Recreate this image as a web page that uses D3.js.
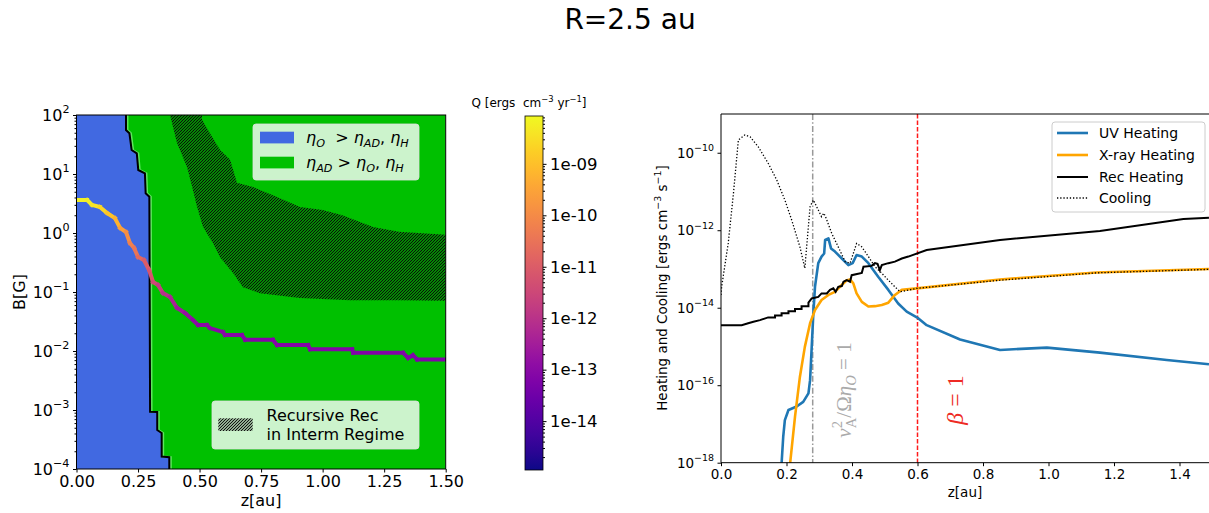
<!DOCTYPE html>
<html>
<head>
<meta charset="utf-8">
<script src="https://cdn.jsdelivr.net/npm/d3@7"></script>
<style>
  body { margin: 0; background: #fff; }
  svg { display: block; font-family: "DejaVu Sans", sans-serif; }
  text { white-space: pre; }
</style>
</head>
<body>
<svg id="fig" width="1209" height="513"></svg>
<script>
// ---------- Left panel: dominant resistivity regimes in (z, B) ----------
// Boundary of the Ohmic-dominated region (z in au, log10 B in G)
const ohmZ    = [0.201, 0.201, 0.215, 0.224, 0.245, 0.251, 0.278, 0.281, 0.296, 0.299, 0.328, 0.328, 0.346, 0.346, 0.377, 0.377];
const ohmLogB = [2.0,   1.746, 1.69,  1.407, 1.351, 1.068, 1.012, 0.673, 0.615, -3.03, -3.034, -3.34, -3.39, -3.79, -3.80, -4.0];

// Region of recursive recombination in the intermediate regime
const recTopZ    = [0.38, 0.51, 0.51, 0.542, 0.583, 0.624, 0.652, 0.717, 0.815, 0.908, 1.0, 1.08, 1.205, 1.31, 1.5];
const recTopLogB = [2.0,  2.0,  1.92, 1.69,  1.41,  1.24,  0.85,  0.78,  0.61,  0.44,  0.39, 0.30, 0.10, 0.02, -0.03];
const recBotZ    = [1.5,   1.31,  1.11,  0.908, 0.745, 0.676, 0.636, 0.583, 0.554, 0.514, 0.49, 0.47, 0.449, 0.408, 0.38];
const recBotLogB = [-1.15, -1.14, -1.14, -1.10, -1.02, -0.92, -0.68, -0.41, -0.17, 0.10, 0.44, 0.78, 1.12, 1.53, 2.0];

// Field strength along the column and the local heating rate Q (log10)
const fieldZ = [0, 0.043, 0.063, 0.095, 0.124, 0.156, 0.177, 0.201, 0.217, 0.234, 0.25, 0.274, 0.295, 0.311, 0.331, 0.351, 0.38, 0.408, 0.441, 0.473, 0.494, 0.53, 0.542, 0.595, 0.603, 0.672, 0.685, 0.798, 0.815, 0.941, 0.949, 1.12, 1.124, 1.327, 1.347, 1.367, 1.384, 1.5];
const fieldB = [3.62, 3.62, 2.99, 2.76, 2.18, 1.79, 1.22, 1.04, 0.678, 0.557, 0.392, 0.348, 0.236, 0.148, 0.132, 0.096, 0.082, 0.054, 0.044, 0.0335, 0.0275, 0.0275, 0.0245, 0.0209, 0.0186, 0.0186, 0.0155, 0.0155, 0.0126, 0.0126, 0.0107, 0.0107, 0.0093, 0.0093, 0.0076, 0.0085, 0.0072, 0.0072];
const fieldLogQ = [-8.2, -8.2, -8.3, -8.5, -8.8, -9.1, -9.4, -9.8, -10.1, -10.3, -10.6, -10.9, -11.1, -11.3, -11.6, -11.9, -12.2, -12.5, -12.7, -12.9, -13.0, -13.0, -13.0, -13.05, -13.05, -13.1, -13.1, -13.1, -13.1, -13.1, -13.1, -13.15, -13.15, -13.15, -13.2, -13.2, -13.2, -13.2];

const leftXTicks = [0, 0.25, 0.5, 0.75, 1.0, 1.25, 1.5];
const leftYExps = [-4, -3, -2, -1, 0, 1, 2];
const cbarExps = [-14, -13, -12, -11, -10, -9];
const cbarLogRange = [-14.95, -8.07];

// ---------- Right panel: heating and cooling rates vs z ----------
const uvZ    = [0.16, 0.185, 0.190, 0.195, 0.206, 0.231, 0.251, 0.267, 0.272, 0.277, 0.282, 0.287, 0.297, 0.307, 0.315, 0.318, 0.328, 0.336, 0.348, 0.369, 0.389, 0.402, 0.414, 0.430, 0.450, 0.480, 0.511, 0.541, 0.567, 0.602, 0.628, 0.730, 0.852, 0.995, 1.157, 1.361, 1.49];
const uvLogQ = [-19, -18.02, -17.33, -16.90, -16.64, -16.55, -16.43, -16.21, -15.87, -15.01, -14.14, -13.46, -12.85, -12.68, -12.60, -12.25, -12.21, -12.47, -12.55, -12.73, -12.90, -12.85, -12.64, -12.68, -12.85, -13.20, -13.54, -13.89, -14.10, -14.27, -14.45, -14.82, -15.09, -15.03, -15.16, -15.35, -15.46];

const xrayZ    = [0.19, 0.211, 0.226, 0.241, 0.256, 0.272, 0.287, 0.307, 0.328, 0.348, 0.363, 0.384, 0.394, 0.404, 0.414, 0.430, 0.450, 0.470, 0.491, 0.511, 0.531, 0.552, 0.598, 0.852, 1.147, 1.49];
const xrayLogQ = [-19.5, -18.02, -16.81, -15.78, -15.01, -14.40, -14.06, -13.80, -13.67, -13.59, -13.46, -13.29, -13.27, -13.37, -13.63, -13.85, -13.97, -13.96, -13.93, -13.87, -13.67, -13.54, -13.50, -13.27, -13.09, -13.00];

const recZ    = [0, 0.063, 0.083, 0.099, 0.119, 0.144, 0.165, 0.165, 0.185, 0.185, 0.206, 0.206, 0.226, 0.226, 0.246, 0.246, 0.267, 0.267, 0.277, 0.297, 0.307, 0.323, 0.333, 0.343, 0.350, 0.358, 0.369, 0.374, 0.384, 0.394, 0.399, 0.430, 0.435, 0.460, 0.470, 0.478, 0.485, 0.491, 0.511, 0.531, 0.552, 0.572, 0.628, 0.852, 1.157, 1.412, 1.49];
const recLogQ = [-14.45, -14.45, -14.40, -14.36, -14.32, -14.25, -14.25, -14.20, -14.20, -14.14, -14.14, -14.09, -14.09, -14.03, -14.03, -13.96, -13.96, -13.87, -13.76, -13.72, -13.63, -13.63, -13.54, -13.50, -13.59, -13.46, -13.44, -13.33, -13.29, -13.33, -13.16, -13.10, -12.94, -12.92, -12.85, -12.87, -13.03, -12.90, -12.85, -12.81, -12.73, -12.68, -12.51, -12.25, -12.02, -11.71, -11.68];

const coolZ    = [0, 0.002, 0.022, 0.038, 0.053, 0.073, 0.089, 0.114, 0.144, 0.170, 0.195, 0.216, 0.241, 0.256, 0.272, 0.282, 0.297, 0.307, 0.314, 0.321, 0.338, 0.358, 0.379, 0.394, 0.404, 0.414, 0.430, 0.450, 0.470, 0.491, 0.511, 0.531, 0.547, 0.598, 0.852, 1.147, 1.49];
const coolLogQ = [-13.67, -13.46, -12.34, -11.05, -9.67, -9.54, -9.59, -9.85, -10.27, -10.70, -11.22, -11.74, -12.43, -12.98, -11.39, -11.22, -11.48, -11.65, -11.56, -11.69, -12.08, -12.43, -12.81, -12.85, -12.60, -12.34, -12.43, -12.68, -12.94, -13.11, -13.29, -13.46, -13.59, -13.50, -13.29, -13.10, -13.01];

const rightXTicks = [0, 0.2, 0.4, 0.6, 0.8, 1.0, 1.2, 1.4];
const rightYExps = [-18, -16, -14, -12, -10];
const alfvenZ = 0.28;   // v_A^2 / (Ω η_O) = 1
const betaZ = 0.6;      // plasma beta = 1

const seriesNames = ["UV Heating", "X-ray Heating", "Rec Heating", "Cooling"];
const seriesColors = ["#1f77b4", "orange", "black", "black"];

// ---------- helpers ----------
const svg = d3.select("#fig");
const minus = n => (n < 0 ? "\u2212" + (-n) : String(n));

function powLabel(textSel, exp, size) {
  textSel.text(null);
  textSel.append("tspan").text("10");
  textSel.append("tspan").attr("dy", -size * 0.45).attr("font-size", size * 0.7).text(minus(exp));
}

// segments: {t, it, sub, sup, dx}
function mathText(textSel, segs, size) {
  let shift = 0;
  segs.forEach(s => {
    const target = s.sub ? size * 0.22 : s.sup ? -size * 0.42 : 0;
    const ts = textSel.append("tspan").attr("dy", target - shift).text(s.t);
    shift = target;
    if (s.sub || s.sup) ts.attr("font-size", size * 0.7);
    if (s.it) ts.attr("font-style", "italic");
    if (s.dx) ts.attr("dx", s.dx);
  });
}

// Suptitle
svg.append("text").attr("x", 630).attr("y", 29).attr("text-anchor", "middle")
  .attr("font-size", 28).text("R=2.5 au");

// ======================= LEFT PANEL =======================
const xL = d3.scaleLinear().domain([0, 1.5]).range([76.5, 445.7]);
const yL = d3.scaleLog().domain([1e-4, 1e2]).range([469, 115]);

const defs = svg.append("defs");
defs.append("clipPath").attr("id", "clipL").append("rect")
  .attr("x", xL(0)).attr("y", yL(1e2)).attr("width", xL(1.5) - xL(0)).attr("height", yL(1e-4) - yL(1e2));

const hatch = defs.append("pattern").attr("id", "hatch").attr("patternUnits", "userSpaceOnUse")
  .attr("width", 3).attr("height", 3);
hatch.append("path").attr("d", "M-1,1 L1,-1 M0,3 L3,0 M2,4 L4,2")
  .attr("stroke", "#0a0a0a").attr("stroke-width", 1.2);

const gL = svg.append("g").attr("clip-path", "url(#clipL)");
gL.append("rect").attr("x", xL(0)).attr("y", yL(1e2)).attr("width", xL(1.5) - xL(0))
  .attr("height", yL(1e-4) - yL(1e2)).attr("fill", "#00c000");

const ohmPts = ohmZ.map((z, i) => [z, Math.pow(10, ohmLogB[i])]);
const ohmPoly = [[0, 1e2], ...ohmPts, [0, 1e-4]];
const lineL = d3.line().x(d => xL(d[0])).y(d => yL(d[1]));
gL.append("path").attr("d", lineL(ohmPoly) + "Z").attr("fill", "#4169e1");

const recPoly = recTopZ.map((z, i) => [z, Math.pow(10, recTopLogB[i])])
  .concat(recBotZ.map((z, i) => [z, Math.pow(10, recBotLogB[i])]));
gL.append("path").attr("d", lineL(recPoly) + "Z").attr("fill", "url(#hatch)");

// light contour edge and the black boundary line
gL.append("path").attr("d", lineL(ohmPts)).attr("fill", "none")
  .attr("stroke", "#5ee65e").attr("stroke-width", 2).attr("transform", "translate(1.5,0)");
gL.append("path").attr("d", lineL(ohmPts)).attr("fill", "none")
  .attr("stroke", "black").attr("stroke-width", 2);

// Field line coloured by Q
const qNorm = v => (v - cbarLogRange[0]) / (cbarLogRange[1] - cbarLogRange[0]);
for (let i = 0; i < fieldZ.length - 1; i++) {
  gL.append("line")
    .attr("x1", xL(fieldZ[i])).attr("y1", yL(fieldB[i]))
    .attr("x2", xL(fieldZ[i + 1])).attr("y2", yL(fieldB[i + 1]))
    .attr("stroke", d3.interpolatePlasma(qNorm((fieldLogQ[i] + fieldLogQ[i + 1]) / 2)))
    .attr("stroke-width", 4).attr("stroke-linecap", "square");
}

// Frame
svg.append("rect").attr("x", xL(0)).attr("y", yL(1e2)).attr("width", xL(1.5) - xL(0))
  .attr("height", yL(1e-4) - yL(1e2)).attr("fill", "none").attr("stroke", "black").attr("stroke-width", 1);

// Axes
const axXL = svg.append("g").attr("transform", `translate(0,${yL(1e-4)})`)
  .call(d3.axisBottom(xL).tickValues(leftXTicks).tickFormat(d3.format(".2f")).tickSize(3.5).tickPadding(3.5).tickSizeOuter(0));
axXL.select(".domain").remove();
axXL.selectAll("text").attr("font-size", 16).attr("font-family", "DejaVu Sans").attr("fill", "#000");

const leftMinor = [];
for (let e = -4; e < 2; e++) for (let m = 2; m <= 9; m++) leftMinor.push(m * Math.pow(10, e));
const axYLm = svg.append("g").attr("transform", `translate(${xL(0)},0)`)
  .call(d3.axisLeft(yL).tickValues(leftMinor).tickFormat("").tickSize(2).tickSizeOuter(0));
axYLm.select(".domain").remove();
const axYL = svg.append("g").attr("transform", `translate(${xL(0)},0)`)
  .call(d3.axisLeft(yL).tickValues(leftYExps.map(e => Math.pow(10, e))).tickSize(3.5).tickPadding(3.5).tickSizeOuter(0));
axYL.select(".domain").remove();
axYL.selectAll("text").attr("font-size", 16).attr("font-family", "DejaVu Sans").attr("fill", "#000")
  .each(function (d) { powLabel(d3.select(this), Math.round(Math.log10(d)), 16); });

svg.append("text").attr("x", xL(0.75)).attr("y", 506).attr("text-anchor", "middle")
  .attr("font-size", 16).text("z[au]");
svg.append("text").attr("transform", "translate(25,292) rotate(-90)").attr("text-anchor", "middle")
  .attr("font-size", 16).text("B[G]");

// Legend: regimes
const lg1 = svg.append("g");
lg1.append("rect").attr("x", 253).attr("y", 124).attr("width", 166).attr("height", 56).attr("rx", 3)
  .attr("fill", "white").attr("fill-opacity", 0.8).attr("stroke", "#e0e0e0").attr("stroke-opacity", 0.8);
lg1.append("rect").attr("x", 260).attr("y", 131.7).attr("width", 34).attr("height", 11.7).attr("fill", "#4169e1");
lg1.append("rect").attr("x", 260).attr("y", 156.7).attr("width", 34).attr("height", 11.7).attr("fill", "#00c000");
mathText(lg1.append("text").attr("x", 306).attr("y", 143).attr("font-size", 16),
  [{ t: "\u03b7", it: 1 }, { t: "O", it: 1, sub: 1 }, { t: "  > " }, { t: "\u03b7", it: 1 }, { t: "AD", it: 1, sub: 1 },
   { t: ", " }, { t: "\u03b7", it: 1 }, { t: "H", it: 1, sub: 1 }], 16);
mathText(lg1.append("text").attr("x", 306).attr("y", 168).attr("font-size", 16),
  [{ t: "\u03b7", it: 1 }, { t: "AD", it: 1, sub: 1 }, { t: " > " }, { t: "\u03b7", it: 1 }, { t: "O", it: 1, sub: 1 },
   { t: ", " }, { t: "\u03b7", it: 1 }, { t: "H", it: 1, sub: 1 }], 16);

// Legend: hatched region
const lg2 = svg.append("g");
lg2.append("rect").attr("x", 212).attr("y", 401).attr("width", 207).attr("height", 48).attr("rx", 3)
  .attr("fill", "white").attr("fill-opacity", 0.8).attr("stroke", "#e0e0e0").attr("stroke-opacity", 0.8);
lg2.append("rect").attr("x", 218.3).attr("y", 418.3).attr("width", 34.4).attr("height", 12.7).attr("fill", "url(#hatch)");
lg2.append("text").attr("x", 266.5).attr("y", 421).attr("font-size", 16).text("Recursive Rec");
lg2.append("text").attr("x", 266.5).attr("y", 440).attr("font-size", 16).text("in Interm Regime");

// ======================= COLORBAR =======================
const yC = d3.scaleLog().domain([Math.pow(10, cbarLogRange[0]), Math.pow(10, cbarLogRange[1])]).range([470, 116]);
const grad = defs.append("linearGradient").attr("id", "plasmaGrad")
  .attr("x1", 0).attr("y1", 1).attr("x2", 0).attr("y2", 0);
d3.range(0, 1.0001, 0.05).forEach(t => grad.append("stop").attr("offset", t).attr("stop-color", d3.interpolatePlasma(t)));
svg.append("rect").attr("x", 525).attr("y", 116).attr("width", 18).attr("height", 354)
  .attr("fill", "url(#plasmaGrad)").attr("stroke", "black").attr("stroke-width", 0.8);

const cbMinor = [];
for (let e = -15; e <= -8; e++) for (let m = 2; m <= 9; m++) {
  const v = m * Math.pow(10, e);
  if (Math.log10(v) > cbarLogRange[0] && Math.log10(v) < cbarLogRange[1]) cbMinor.push(v);
}
const axCm = svg.append("g").attr("transform", "translate(543,0)")
  .call(d3.axisRight(yC).tickValues(cbMinor).tickFormat("").tickSize(2).tickSizeOuter(0));
axCm.select(".domain").remove();
const axC = svg.append("g").attr("transform", "translate(543,0)")
  .call(d3.axisRight(yC).tickValues(cbarExps.map(e => Math.pow(10, e)))
    .tickFormat(d => "1e-" + String(-Math.round(Math.log10(d))).padStart(2, "0"))
    .tickSize(3.5).tickPadding(3.5).tickSizeOuter(0));
axC.select(".domain").remove();
axC.selectAll("text").attr("font-size", 16.5).attr("font-family", "DejaVu Sans").attr("fill", "#000");

mathText(svg.append("text").attr("x", 529).attr("y", 107).attr("text-anchor", "middle").attr("font-size", 12),
  [{ t: "Q [ergs  cm" }, { t: "\u22123", sup: 1 }, { t: " yr" }, { t: "\u22121", sup: 1 }, { t: "]" }], 12);

// ======================= RIGHT PANEL =======================
const xR = d3.scaleLinear().domain([0, 1.5]).range([721, 721 + 1.5 * 327.5]);
const yR = d3.scaleLog().domain([1e-18, 1e-9]).range([462.7, 114]);

defs.append("clipPath").attr("id", "clipR").append("rect")
  .attr("x", 721).attr("y", 114).attr("width", 500).attr("height", 462.7 - 114);
const gR = svg.append("g").attr("clip-path", "url(#clipR)");

const lineR = d3.line().x(d => xR(d[0])).y(d => yR(Math.pow(10, d[1])));
const pairs = (zs, qs) => zs.map((z, i) => [z, qs[i]]);

// reference lines
gR.append("line").attr("x1", xR(alfvenZ)).attr("x2", xR(alfvenZ)).attr("y1", 114).attr("y2", 463)
  .attr("stroke", "#999").attr("stroke-width", 1.5).attr("stroke-dasharray", "6,2.2,1.5,2.2");
gR.append("line").attr("x1", xR(betaZ)).attr("x2", xR(betaZ)).attr("y1", 114).attr("y2", 463)
  .attr("stroke", "#ff1a1a").attr("stroke-width", 1.5).attr("stroke-dasharray", "4.5,2");

gR.append("path").attr("d", lineR(pairs(uvZ, uvLogQ))).attr("fill", "none")
  .attr("stroke", seriesColors[0]).attr("stroke-width", 2.6).attr("stroke-linejoin", "round");
gR.append("path").attr("d", lineR(pairs(xrayZ, xrayLogQ))).attr("fill", "none")
  .attr("stroke", seriesColors[1]).attr("stroke-width", 2.6).attr("stroke-linejoin", "round");
gR.append("path").attr("d", lineR(pairs(recZ, recLogQ))).attr("fill", "none")
  .attr("stroke", seriesColors[2]).attr("stroke-width", 2);
gR.append("path").attr("d", lineR(pairs(coolZ, coolLogQ))).attr("fill", "none")
  .attr("stroke", seriesColors[3]).attr("stroke-width", 1.3).attr("stroke-dasharray", "1.3,1.9");

// annotations
mathText(svg.append("text").attr("transform", `translate(851,390) rotate(-90)`).attr("text-anchor", "middle")
  .attr("font-size", 21).attr("font-family", "Liberation Serif").attr("fill", "#aaa"),
  [{ t: "v", it: 1 }, { t: "2", sup: 1 }, { t: "A", sub: 1, dx: -7.3 }, { t: "/\u03a9" }, { t: "\u03b7", it: 1 },
   { t: "O", it: 1, sub: 1 }, { t: " = 1" }], 21);
mathText(svg.append("text").attr("transform", `translate(963,400) rotate(-90)`).attr("text-anchor", "middle")
  .attr("font-size", 24).attr("font-family", "Liberation Serif").attr("fill", "#ee2a24"),
  [{ t: "\u03b2", it: 1 }, { t: " = 1" }], 24);

// spines
svg.append("path").attr("d", `M721,114 H1209 M721,114 V462.7 H1209`).attr("fill", "none")
  .attr("stroke", "black").attr("stroke-width", 1);

const axXR = svg.append("g").attr("transform", "translate(0,462.7)")
  .call(d3.axisBottom(xR).tickValues(rightXTicks).tickFormat(d3.format(".1f")).tickSize(3.5).tickPadding(3.5).tickSizeOuter(0));
axXR.select(".domain").remove();
axXR.selectAll("text").attr("font-size", 13.5).attr("font-family", "DejaVu Sans").attr("fill", "#000");

const axYR = svg.append("g").attr("transform", "translate(721,0)")
  .call(d3.axisLeft(yR).tickValues(rightYExps.map(e => Math.pow(10, e))).tickSize(3.5).tickPadding(3.5).tickSizeOuter(0));
axYR.select(".domain").remove();
axYR.selectAll("text").attr("font-size", 13.5).attr("font-family", "DejaVu Sans").attr("fill", "#000")
  .each(function (d) { powLabel(d3.select(this), Math.round(Math.log10(d)), 13.5); });

svg.append("text").attr("x", 965).attr("y", 497).attr("text-anchor", "middle").attr("font-size", 13.5).text("z[au]");
mathText(svg.append("text").attr("transform", "translate(667,288) rotate(-90)").attr("text-anchor", "middle")
  .attr("font-size", 13.5),
  [{ t: "Heating and Cooling [ergs cm" }, { t: "\u22123", sup: 1 }, { t: " s" }, { t: "\u22121", sup: 1 }, { t: "]" }], 13.5);

// Legend
const lgR = svg.append("g");
lgR.append("rect").attr("x", 1052).attr("y", 122).attr("width", 153).attr("height", 90).attr("rx", 3)
  .attr("fill", "white").attr("fill-opacity", 0.8).attr("stroke", "#ccc");
const legendY = [133, 155, 177, 198];
seriesNames.forEach((name, i) => {
  const l = lgR.append("line").attr("x1", 1057).attr("x2", 1088).attr("y1", legendY[i]).attr("y2", legendY[i])
    .attr("stroke", seriesColors[i]).attr("stroke-width", i < 2 ? 2.6 : i === 2 ? 2 : 1.3);
  if (i === 3) l.attr("stroke-dasharray", "1.3,1.9");
  lgR.append("text").attr("x", 1099).attr("y", legendY[i] + 5).attr("font-size", 14).text(name);
});
</script>
</body>
</html>
